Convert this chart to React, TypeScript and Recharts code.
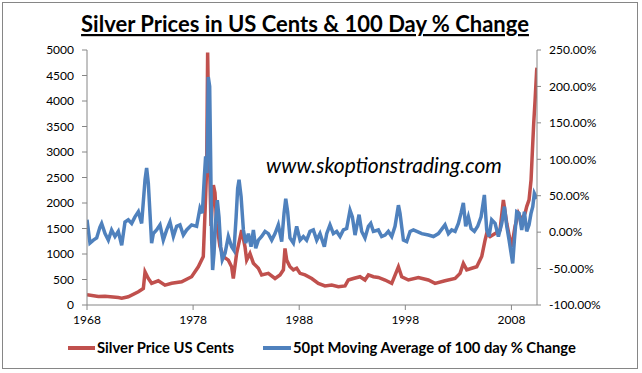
import React from 'react';
import { ComposedChart, Line, XAxis, YAxis } from 'recharts';

// silver price, US cents (left axis)
const silverYears = [
  1968.0, 1969.07, 1969.7, 1970.95, 1971.27, 1971.89, 1972.84, 1973.31, 1973.47, 1973.78,
  1974.09, 1974.72, 1975.35, 1975.98, 1976.92, 1977.86, 1978.49, 1978.96, 1979.12, 1979.28,
  1979.37, 1979.5, 1979.69, 1979.91, 1980.06, 1980.22, 1980.53, 1980.85, 1981.32, 1981.63,
  1981.79, 1982.1, 1982.58, 1982.89, 1983.05, 1983.36, 1983.68, 1984.15, 1984.46, 1985.09,
  1985.72, 1986.19, 1986.51, 1986.66, 1986.82, 1987.13, 1987.45, 1987.76, 1988.08, 1988.55,
  1989.18, 1989.8, 1990.43, 1991.06, 1991.69, 1992.32, 1992.63, 1993.1, 1993.73, 1994.2,
  1994.52, 1994.99, 1995.46, 1996.09, 1996.72, 1997.35, 1997.66, 1998.29, 1999.23, 2000.17,
  2000.8, 2001.74, 2002.69, 2003.16, 2003.47, 2003.79, 2004.26, 2004.73, 2005.2, 2005.52,
  2005.67, 2005.99, 2006.46, 2006.93, 2007.24, 2007.56, 2007.87, 2008.03, 2008.34, 2008.66,
  2008.97, 2009.29, 2009.44, 2009.66, 2009.85, 2009.98, 2010.1, 2010.23, 2010.38, 2010.41,
];
const silverCents = [
  200, 165, 170, 145, 135, 160, 260, 325, 650, 520,
  425, 475, 390, 425, 455, 555, 750, 950, 1800, 2700,
  4950, 3200, 1550, 2350, 2200, 1600, 1150, 950, 880, 750,
  520, 1010, 1470, 1140, 880, 1010, 820, 720, 590, 620,
  520, 590, 690, 1110, 880, 750, 690, 720, 620, 590,
  520, 425, 375, 390, 360, 375, 490, 520, 555, 490,
  590, 555, 540, 490, 425, 750, 555, 490, 540, 490,
  425, 475, 520, 620, 815, 690, 720, 750, 950, 1275,
  1400, 1340, 1400, 1470, 2060, 1600, 1275, 1140, 1540, 1800,
  1670, 1800, 1930, 2060, 2450, 3040, 3560, 4020, 4610, 4650,
];

// 50pt moving average of 100 day % change (right axis)
const changeYears = [
  1968.0, 1968.28, 1968.6, 1968.91, 1969.22, 1969.38, 1969.7, 1970.01, 1970.32, 1970.64,
  1970.95, 1971.27, 1971.58, 1971.89, 1972.21, 1972.52, 1972.84, 1973.15, 1973.47, 1973.62,
  1973.78, 1974.09, 1974.25, 1974.56, 1974.88, 1975.19, 1975.51, 1975.82, 1976.14, 1976.45,
  1976.76, 1977.08, 1977.39, 1977.86, 1978.33, 1978.65, 1978.87, 1979.06, 1979.18, 1979.31,
  1979.43, 1979.56, 1979.65, 1979.75, 1979.84, 1979.97, 1980.13, 1980.28, 1980.44, 1980.6,
  1980.75, 1981.01, 1981.32, 1981.63, 1981.85, 1982.05, 1982.2, 1982.33, 1982.52, 1982.74,
  1982.96, 1983.21, 1983.46, 1983.68, 1983.9, 1984.15, 1984.46, 1984.78, 1985.09, 1985.41,
  1985.72, 1986.03, 1986.35, 1986.57, 1986.73, 1986.91, 1987.13, 1987.45, 1987.76, 1988.08,
  1988.39, 1988.7, 1989.02, 1989.33, 1989.65, 1989.96, 1990.37, 1990.59, 1990.9, 1991.22,
  1991.53, 1991.85, 1992.16, 1992.47, 1992.79, 1993.01, 1993.26, 1993.64, 1993.89, 1994.2,
  1994.52, 1994.74, 1994.99, 1995.46, 1995.77, 1996.09, 1996.4, 1996.72, 1997.03, 1997.35,
  1997.5, 1997.82, 1998.13, 1998.45, 1998.76, 1999.08, 1999.55, 2000.17, 2000.65, 2001.12,
  2001.74, 2002.06, 2002.37, 2002.69, 2003.0, 2003.25, 2003.47, 2003.69, 2003.94, 2004.2,
  2004.51, 2004.82, 2005.14, 2005.45, 2005.67, 2005.89, 2006.14, 2006.46, 2006.77, 2007.09,
  2007.34, 2007.56, 2007.78, 2007.97, 2008.12, 2008.28, 2008.5, 2008.72, 2008.97, 2009.22,
  2009.44, 2009.66, 2009.85, 2010.01, 2010.16, 2010.29, 2010.41,
];
const changePct = [
  17, -15, -11, -8, 7, 12, -2, -11, 3, -6,
  1, -18, 14, 17, 12, 21, 28, 12, 72, 88,
  67, -15, -2, 3, 10, -11, 3, 14, -6, 8,
  10, -4, 3, 10, 8, 33, 26, 76, 104, 81,
  213, 200, 104, -11, -52, -29, 17, 44, 21, -20,
  -38, -29, -6, -20, -25, 20, 60, 72, 49, 3,
  -15, -2, -20, 3, -22, -11, -6, 1, -2, -11,
  -2, 10, -13, 26, 46, 28, -8, -15, 8, -11,
  -6, -11, 1, 3, -11, -2, -20, -2, 10, -2,
  1, -6, 3, 5, 30, 21, -4, 24, 1, -8,
  8, 12, 1, 3, -6, -4, 1, -6, 8, 37,
  26, -11, -13, 1, 3, 1, -2, -4, -6, -2,
  10, -2, 3, 1, 12, 26, 40, 8, 21, 5,
  1, 8, 21, 51, 3, -6, 17, 12, -6, 12,
  35, 8, -11, -29, -43, -11, 28, 26, 3, 28,
  1, 10, 26, 35, 53, 49, 46,
];

const yearTicks = [1968, 1978, 1988, 1998, 2008];
const centTicks = [0, 500, 1000, 1500, 2000, 2500, 3000, 3500, 4000, 4500, 5000];
const pctTicks = [-100, -50, 0, 50, 100, 150, 200, 250];

const silverData = silverYears.map((t, i) => ({ t, v: silverCents[i] }));
const changeData = changeYears.map((t, i) => ({ t, v: changePct[i] }));

const RED = '#C0504D';
const BLUE = '#4F81BD';
const AXIS = '#868686';
const FONT = 'Lato, "Open Sans", sans-serif';
const tickStyle = { fontSize: 12, fill: '#000', fontFamily: FONT };

export default function App() {
  return (
    <div style={{ position: 'absolute', left: 0, top: 0, width: 642, height: 373, background: '#fff' }}>
      <ComposedChart
        width={642}
        height={373}
        margin={{ top: 50, right: 0, left: 0, bottom: 48 }}
      >
        <XAxis
          type="number"
          dataKey="t"
          domain={[1968, 2010.41]}
          ticks={yearTicks}
          allowDataOverflow
          tickSize={5}
          tickMargin={5}
          height={20}
          tick={tickStyle}
          stroke={AXIS}
        />
        <YAxis
          yAxisId="left"
          domain={[0, 5000]}
          ticks={centTicks}
          width={87}
          tickSize={5}
          tickMargin={8}
          tick={tickStyle}
          stroke={AXIS}
        />
        <YAxis
          yAxisId="right"
          orientation="right"
          domain={[-100, 250]}
          ticks={pctTicks}
          width={105}
          tickSize={4}
          tickMargin={8}
          tick={tickStyle}
          stroke={AXIS}
          tickFormatter={(v: number) => `${v.toFixed(2)}%`}
        />
        <Line
          yAxisId="left"
          data={silverData}
          dataKey="v"
          type="linear"
          stroke={RED}
          strokeWidth={3.5}
          dot={false}
          isAnimationActive={false}
        />
        <Line
          yAxisId="right"
          data={changeData}
          dataKey="v"
          type="linear"
          stroke={BLUE}
          strokeWidth={3.5}
          dot={false}
          isAnimationActive={false}
        />
      </ComposedChart>

      {/* title, watermark, legend and frame */}
      <svg width={642} height={373} style={{ position: 'absolute', left: 0, top: 0, pointerEvents: 'none' }}>
        <rect x={2.5} y={2.5} width={635} height={366} fill="none" stroke={AXIS} />
        <text x={305} y={32} textAnchor="middle" fontFamily={FONT} fontWeight="bold" fontSize={22} textDecoration="underline">
          Silver Prices in US Cents &amp; 100 Day % Change
        </text>
        <text x={384} y={173} textAnchor="middle" fontFamily={FONT} fontStyle="italic" fontSize={21}>
          www.skoptionstrading.com
        </text>
        <line x1={68} y1={348} x2={95} y2={348} stroke={RED} strokeWidth={4} />
        <text x={97} y={353} fontFamily={FONT} fontWeight="bold" fontSize={14.8}>Silver Price US Cents</text>
        <line x1={263} y1={348} x2={291} y2={348} stroke={BLUE} strokeWidth={4} />
        <text x={293} y={353} fontFamily={FONT} fontWeight="bold" fontSize={14.8}>50pt Moving Average of 100 day % Change</text>
      </svg>
    </div>
  );
}
